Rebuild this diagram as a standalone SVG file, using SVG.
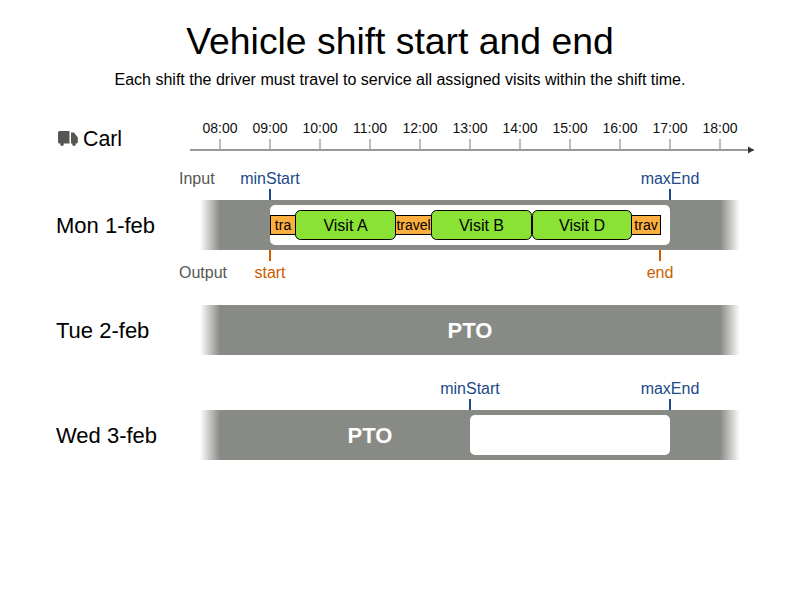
<svg xmlns="http://www.w3.org/2000/svg" width="800" height="600" viewBox="0 0 800 600">
<style>
text{font-family:"Liberation Sans",Arial,sans-serif;fill:#000}
.m{text-anchor:middle}
.hour{font-size:14px;fill:#111;text-anchor:middle}
.day{font-size:22px}
.io{font-size:16px;fill:#555753}
.in{font-size:16px;fill:#204a87;text-anchor:middle}
.out{font-size:16px;fill:#ce5c00;text-anchor:middle}
.pto{font-size:22px;font-weight:bold;fill:#fff;text-anchor:middle}
.bar{fill:url(#fade)}
.win{fill:#fff}
.visit{fill:#8ae234;stroke:#000;stroke-width:1}
.trav{fill:#fcaf3e;stroke:#000;stroke-width:1}
.vt{font-size:16px;text-anchor:middle}
.tt{font-size:14px;text-anchor:middle}
.tick{stroke:#a8a8a4;stroke-width:1.5}
.ti{stroke:#204a87;stroke-width:2}
.to{stroke:#ce5c00;stroke-width:2}
</style>
<defs>
<linearGradient id="fade" x1="200" x2="740" y1="0" y2="0" gradientUnits="userSpaceOnUse">
<stop offset="0" stop-color="#888a85" stop-opacity="0"/>
<stop offset="0.037" stop-color="#888a85"/>
<stop offset="0.963" stop-color="#888a85"/>
<stop offset="1" stop-color="#888a85" stop-opacity="0"/>
</linearGradient>
<marker id="arrow" markerUnits="userSpaceOnUse" markerWidth="7" markerHeight="8" refX="6" refY="4" orient="auto"><path d="M0 0.500L6 4L0 7.500Z" fill="#2e3436"/></marker>
</defs>
<text class="m" x="400" y="54" font-size="37.330">Vehicle shift start and end</text>
<text class="m" x="400" y="85" font-size="16">Each shift the driver must travel to service all assigned visits within the shift time.</text>

<g id="driver">
<path d="M58 132.500a1.500 1.500 0 0 1 1.500-1.500h10v12.500h-6a2.200 2.200 0 0 0-3.500 0h-0.500a1.500 1.500 0 0 1-1.500-1.500z" fill="#555753"/>
<path d="M71 132.500h3l3.800 5v4.500a1.500 1.500 0 0 1-1.500 1.500h-0.300a2.200 2.200 0 0 0-3.500 0h-1.500z" fill="#555753"/>
<circle cx="62" cy="144" r="1.900" fill="#555753"/><circle cx="74" cy="144" r="1.900" fill="#555753"/>
<text x="83" y="146" font-size="21.330">Carl</text>
</g>

<g id="axis">
<line x1="190" y1="150" x2="754" y2="150" stroke="#777" stroke-width="1.500" marker-end="url(#arrow)"/>
<path class="tick" d="M220 139V150M270 139V150M320 139V150M370 139V150M420 139V150M470 139V150M520 139V150M570 139V150M620 139V150M670 139V150M720 139V150"/>
<text class="hour" x="220" y="133">08:00</text><text class="hour" x="270" y="133">09:00</text><text class="hour" x="320" y="133">10:00</text><text class="hour" x="370" y="133">11:00</text><text class="hour" x="420" y="133">12:00</text><text class="hour" x="470" y="133">13:00</text><text class="hour" x="520" y="133">14:00</text><text class="hour" x="570" y="133">15:00</text><text class="hour" x="620" y="133">16:00</text><text class="hour" x="670" y="133">17:00</text><text class="hour" x="720" y="133">18:00</text>
</g>

<g id="mon">
<text class="day" x="56" y="233">Mon 1-feb</text>
<rect class="bar" x="200" y="200" width="540" height="50"/>
<rect class="win" x="270" y="205" width="400" height="40" rx="5"/>
<text class="io" x="179" y="184">Input</text>
<text class="io" x="179" y="278">Output</text>
<text class="in" x="270" y="184">minStart</text>
<text class="in" x="670" y="184">maxEnd</text>
<text class="out" x="270" y="278">start</text>
<text class="out" x="660" y="278">end</text>
</g>
<g id="mon-shift">
<rect class="trav" x="270.500" y="215.500" width="25" height="19"/><text class="tt" x="283" y="230">tra</text>
<rect class="trav" x="395.500" y="215.500" width="37" height="19"/><text class="tt" x="413.500" y="230">travel</text>
<rect class="trav" x="631.500" y="215.500" width="29" height="19"/><text class="tt" x="646" y="230">trav</text>
<rect class="visit" x="295.500" y="210.500" width="100" height="29" rx="5"/><text class="vt" x="345.500" y="231">Visit A</text>
<rect class="visit" x="431.500" y="210.500" width="100" height="29" rx="5"/><text class="vt" x="481.500" y="231">Visit B</text>
<rect class="visit" x="532.500" y="210.500" width="99" height="29" rx="5"/><text class="vt" x="582" y="231">Visit D</text>
</g>

<g id="tue">
<text class="day" x="56" y="338">Tue 2-feb</text>
<rect class="bar" x="200" y="305" width="540" height="50"/>
<text class="pto" x="470" y="338">PTO</text>
</g>

<g id="wed">
<text class="day" x="56" y="443">Wed 3-feb</text>
<rect class="bar" x="200" y="410" width="540" height="50"/>
<rect class="win" x="470" y="415" width="200" height="40" rx="5"/>
<text class="pto" x="370" y="443">PTO</text>
<text class="in" x="470" y="394">minStart</text>
<text class="in" x="670" y="394">maxEnd</text>
</g>

<g id="connectors">
<path class="ti" d="M270 189V200M670 189V200M470 399V410M670 399V410"/>
<path class="to" d="M270 250V261M660 250V261"/>
</g>
</svg>
